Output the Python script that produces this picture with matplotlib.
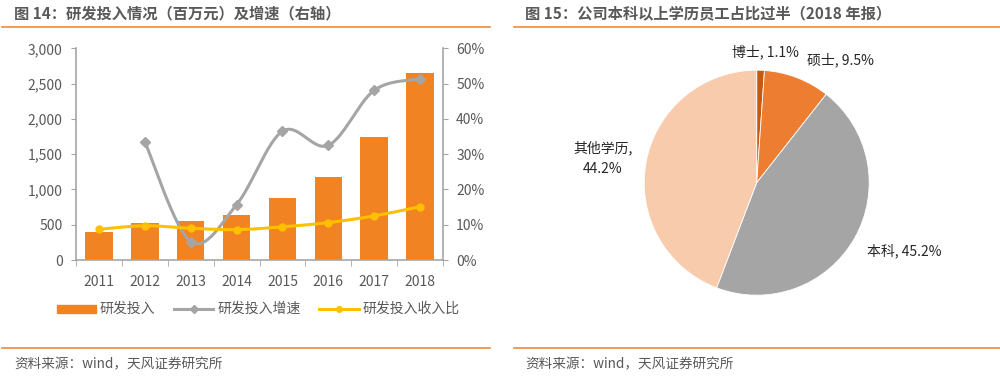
import numpy as np
import matplotlib
matplotlib.use("Agg")
import matplotlib.pyplot as plt
from matplotlib.patches import Rectangle
from matplotlib.lines import Line2D

plt.rcParams['font.family'] = ['Noto Sans CJK SC', 'DejaVu Sans']

# ---- data ----
years = ['2011', '2012', '2013', '2014', '2015', '2016', '2017', '2018']
rd_spend = [392, 528, 552, 641, 877, 1175, 1741, 2651]          # 百万元
rd_growth = [np.nan, 33.5, 5.2, 15.7, 36.5, 32.5, 48.1, 51.3]    # %
rd_ratio = [8.7, 9.7, 9.0, 8.6, 9.4, 10.6, 12.5, 15.1]          # %
left_yticks = [0, 500, 1000, 1500, 2000, 2500, 3000]
right_yticks = [0, 10, 20, 30, 40, 50, 60]

edu_labels = ['博士', '硕士', '本科', '其他学历']
edu_share = [1.1, 9.5, 45.2, 44.2]

title_left = '图 14：研发投入情况（百万元）及增速（右轴）'
title_right = '图 15：公司本科以上学历员工占比过半（2018 年报）'
source = '资料来源：wind，天风证券研究所'
legend_names = ['研发投入', '研发投入增速', '研发投入收入比']

# ---- style ----
C_BAR = '#F28322'
C_GREY = '#A5A5A5'
C_YEL = '#FFC000'
C_TXT = '#595959'
C_RULE = '#EE8A3A'
pie_colors = ['#C55A11', '#ED7D31', '#A5A5A5', '#F8CBAD']
FS = 10

W, H = 1000, 376
fig = plt.figure(figsize=(W / 100, H / 100), dpi=100)


def fx(px):
    return px / W


def fy(py):
    return 1 - py / H


def smooth(xs, ys, n=30):
    xs = np.asarray(xs, float)
    ys = np.asarray(ys, float)
    P = np.column_stack([xs, ys])
    out = []
    for i in range(len(P) - 1):
        p0 = P[i - 1] if i > 0 else P[i]
        p1 = P[i]
        p2 = P[i + 1]
        p3 = P[i + 2] if i + 2 < len(P) else P[i + 1]
        t = np.linspace(0, 1, n)[:, None]
        seg = 0.5 * ((2 * p1) + (-p0 + p2) * t + (2 * p0 - 5 * p1 + 4 * p2 - p3) * t ** 2
                     + (-p0 + 3 * p1 - 3 * p2 + p3) * t ** 3)
        out.append(seg if i == 0 else seg[1:])
    S = np.vstack(out)
    return S[:, 0], S[:, 1]


# ---- titles / rules / source ----
for x0, x1, tx, title in [(2, 490, 14, title_left), (514, 1000, 525, title_right)]:
    fig.text(fx(tx), fy(13), title, fontsize=11, fontweight='bold', color=C_TXT,
             va='center', ha='left')
    fig.add_artist(Line2D([fx(x0), fx(x1)], [fy(27), fy(27)], color=C_RULE, lw=1.2))
    fig.add_artist(Line2D([fx(x0), fx(x1)], [fy(348), fy(348)], color=C_RULE, lw=1.2))
    fig.text(fx(tx), fy(364), source, fontsize=9.8, color=C_TXT, va='center', ha='left')

# ---- left chart ----
ax = fig.add_axes([fx(76), fy(260), fx(443) - fx(76), fy(48.3) - fy(260)])
x = np.arange(len(years))
ax.bar(x, rd_spend, width=0.6, color=C_BAR, zorder=2)
ax.set_xlim(-0.5, len(years) - 0.5)
ax.set_ylim(0, 3000)
ax.set_yticks(left_yticks)
ax.set_yticklabels([f'{v:,}' for v in left_yticks])
ax.set_xticks(x)
ax.set_xticklabels(years)
ax.set_xticks(np.arange(-0.5, len(years)), minor=True)
ax.tick_params(axis='x', which='major', length=0, pad=11, labelsize=FS, labelcolor=C_TXT)
ax.tick_params(axis='x', which='minor', length=4, color=C_GREY, direction='out')
ax.tick_params(axis='y', length=3.5, color=C_GREY, labelsize=FS, labelcolor=C_TXT, pad=6)
for s in ['top', 'right']:
    ax.spines[s].set_visible(False)
for s in ['left', 'bottom']:
    ax.spines[s].set_color(C_GREY)
    ax.spines[s].set_linewidth(1.2)

ax2 = ax.twinx()
ax2.set_ylim(0, 60)
ax2.set_yticks(right_yticks)
ax2.set_yticklabels([f'{v}%' for v in right_yticks])
ax2.tick_params(axis='y', length=3.5, color=C_GREY, labelsize=FS, labelcolor=C_TXT, pad=6)
for s in ['top', 'left', 'bottom']:
    ax2.spines[s].set_visible(False)
ax2.spines['right'].set_color(C_GREY)
ax2.spines['right'].set_linewidth(1.2)

g = np.array(rd_growth, float)
m = ~np.isnan(g)
sx, sy = smooth(x[m], g[m])
ax2.plot(sx, sy, color=C_GREY, lw=2.2, zorder=3)
ax2.plot(x[m], g[m], 'D', color=C_GREY, ms=5, zorder=4)
sx, sy = smooth(x, rd_ratio)
ax2.plot(sx, sy, color=C_YEL, lw=2.2, zorder=3)
ax2.plot(x, rd_ratio, 'o', color=C_YEL, ms=5, zorder=4)

# legend (figure-level, manual)
ly = fy(309)
fig.add_artist(Rectangle((fx(57), fy(313)), fx(96) - fx(57), fy(305) - fy(313), color=C_BAR))
fig.text(fx(100), ly, legend_names[0], fontsize=FS, color=C_TXT, va='center')
fig.add_artist(Line2D([fx(174), fx(213)], [ly, ly], color=C_GREY, lw=2.2))
fig.add_artist(Line2D([fx(193.5)], [ly], marker='D', color=C_GREY, ms=4))
fig.text(fx(218), ly, legend_names[1], fontsize=FS, color=C_TXT, va='center')
fig.add_artist(Line2D([fx(319), fx(359)], [ly, ly], color=C_YEL, lw=2.2))
fig.add_artist(Line2D([fx(339)], [ly], marker='o', color=C_YEL, ms=4))
fig.text(fx(363), ly, legend_names[2], fontsize=FS, color=C_TXT, va='center')

# ---- right chart (pie) ----
cx, cy, r = 756.7, 182.7, 112.5
pax = fig.add_axes([fx(cx - r), fy(cy + r), fx(2 * r), (2 * r) / H])
pax.pie(edu_share, colors=pie_colors, startangle=90, counterclock=False,
        wedgeprops=dict(edgecolor='white', linewidth=0.6))
pax.set_xlim(-1, 1)
pax.set_ylim(-1, 1)
pax.set_aspect('equal')
pax.axis('off')

lab = [f'{n}, {v}%' for n, v in zip(edu_labels, edu_share)]
C_LAB = '#262626'
fig.text(fx(765), fy(52), lab[0], fontsize=FS, color=C_LAB, ha='center', va='center')
fig.text(fx(840), fy(60), lab[1], fontsize=FS, color=C_LAB, ha='center', va='center')
fig.text(fx(904), fy(251), lab[2], fontsize=FS, color=C_LAB, ha='center', va='center')
fig.text(fx(603), fy(158), f'{edu_labels[3]},\n{edu_share[3]}%', fontsize=FS, color=C_LAB,
         ha='center', va='center', linespacing=1.6)

fig.savefig('out.png', dpi=100)
